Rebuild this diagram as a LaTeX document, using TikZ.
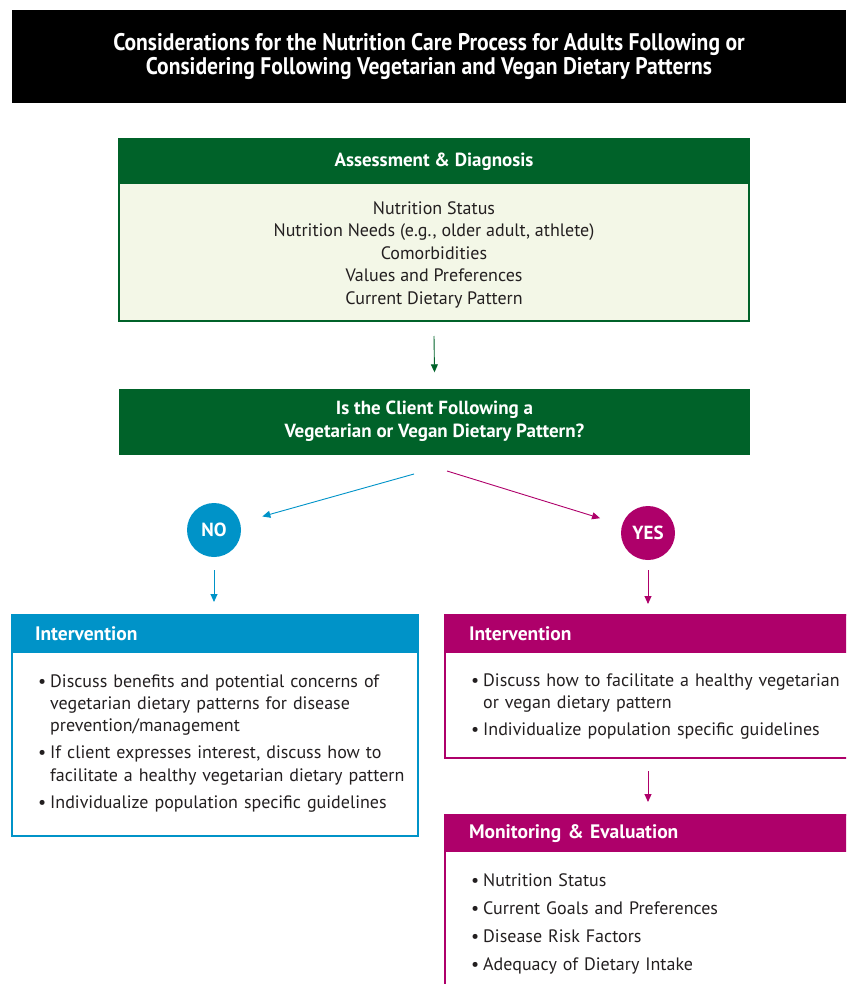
\documentclass[tikz,border=0pt]{standalone}
\usepackage{fontspec}
\setmainfont{PT Sans}
\newfontfamily\titlefont[FakeStretch=0.9]{PT Sans}
\usetikzlibrary{arrows.meta,positioning,calc}
\definecolor{dgreen}{HTML}{006229}
\definecolor{lgreen}{HTML}{F3F7E7}
\definecolor{nblue}{HTML}{0093C8}
\definecolor{ymag}{HTML}{AE006A}
\definecolor{txt}{HTML}{231F20}
\newcommand{\bitem}[1]{\par\hangindent=12pt\hangafter=1\noindent\makebox[12pt][l]{•}#1}
\newcommand{\bsep}{\par\vspace{5pt}}
\begin{document}
\begin{tikzpicture}[x=1pt,y=-1pt,
  titlebox/.style={fill=black, minimum width=834pt, minimum height=93pt, inner sep=0pt, text=white,
    font=\titlefont\bfseries\fontsize{24}{24.5}\selectfont, align=center},
  greenhdr/.style={fill=dgreen, text=white, inner sep=0pt, font=\bfseries\fontsize{19}{23}\selectfont, align=center},
  hdrbox/.style={text=white, inner ysep=0pt, anchor=north, align=left, font=\bfseries\fontsize{19.5}{22}\selectfont},
  outerbox/.style={line width=2pt, inner sep=0pt},
  listtext/.style={anchor=north west, inner sep=0pt, text width=390pt, align=left, text=txt,
    font=\fontsize{18}{22.3}\selectfont},
  circ/.style={circle, minimum size=54pt, inner sep=0pt, text=white, font=\bfseries\fontsize{19}{20}\selectfont},
  garrow/.style={draw=dgreen, line width=0.9pt, -{Triangle[length=8pt,width=7pt]}},
  barrow/.style={draw=nblue, line width=0.9pt, -{Triangle[length=8pt,width=7pt]}},
  marrow/.style={draw=ymag, line width=0.9pt, -{Triangle[length=8pt,width=7pt]}}
]
\useasboundingbox (0,0) rectangle (846,984);
\clip (0,0) rectangle (846,984);

% title
\node[titlebox] (title) at (429,56.5) {Considerations for the Nutrition Care Process for Adults Following or\\Considering Following Vegetarian and Vegan Dietary Patterns};

% assessment
\node[outerbox, draw=dgreen, fill=lgreen, minimum width=630pt, minimum height=182pt] (abox) at (434,230) {};
\node[greenhdr, minimum width=630pt, minimum height=46pt, anchor=north, text depth=2pt] (ah) at (abox.north) {Assessment \& Diagnosis};
\node[align=center, text=txt, font=\fontsize{18}{22.5}\selectfont] (at) at (434,254.5) {Nutrition Status\\Nutrition Needs (e.g., older adult, athlete)\\Comorbidities\\Values and Preferences\\Current Dietary Pattern};

% question
\node[greenhdr, minimum width=631pt, minimum height=66pt] (q) at (434.5,421.5) {Is the Client Following a\\Vegetarian or Vegan Dietary Pattern?};
\draw[garrow] ([yshift=-14pt]abox.south) -- ([yshift=16pt]q.north);

% circles
\node[circ, fill=nblue] (no) at (214,530) {NO};
\node[circ, fill=ymag] (yes) at (648,533) {YES};
\coordinate (bs) at (414,474);
\coordinate (ms) at (447,471);
\draw[barrow, shorten >=23pt] (bs) -- (no);
\draw[marrow, shorten >=23pt] (ms) -- (yes);

% left box
\node[outerbox, draw=nblue, minimum width=406pt, minimum height=221pt] (lbox) at (215,725.5) {};
\node[hdrbox, fill=nblue, text width=360pt, inner xsep=23pt, minimum height=39pt] (lh) at (lbox.north) {Intervention};
\node[listtext] (lt) at (38,664.5) {\bitem{Discuss benefits and potential concerns of\newline vegetarian dietary patterns for disease\newline prevention/management}\bsep
\bitem{If client expresses interest, discuss how to\newline facilitate a healthy vegetarian dietary pattern}\bsep
\bitem{Individualize population specific guidelines}};
\coordinate (na) at (no.south |- lbox.north);
\draw[barrow] ([yshift=-13pt]no.south) -- ([yshift=12pt]na);

% right intervention
\node[outerbox, draw=ymag, minimum width=420pt, minimum height=143pt] (rbox) at (655,686.5) {};
\node[hdrbox, fill=ymag, text width=372pt, inner xsep=24pt, minimum height=39pt] (rh) at (rbox.north) {Intervention};
\node[listtext] (rt) at (471,663.5) {\bitem{Discuss how to facilitate a healthy vegetarian\newline or vegan dietary pattern}\bsep
\bitem{Individualize population specific guidelines}};
\coordinate (ya) at (yes.south |- rbox.north);
\draw[marrow] ([yshift=-10pt]yes.south) -- ([yshift=10pt]ya);

% monitoring
\node[outerbox, draw=ymag, minimum width=420pt, minimum height=185pt] (mbox) at (655,907.5) {};
\node[hdrbox, fill=ymag, text width=372pt, inner xsep=24pt, minimum height=38pt] (mh) at (mbox.north) {Monitoring \& Evaluation};
\node[listtext] (mt) at (471,864) {\bitem{Nutrition Status}\par\vspace{5.7pt}
\bitem{Current Goals and Preferences}\par\vspace{5.7pt}
\bitem{Disease Risk Factors}\par\vspace{5.7pt}
\bitem{Adequacy of Dietary Intake}};
\coordinate (yb) at (yes |- rbox.south);
\coordinate (yc) at (yes |- mbox.north);
\draw[marrow] ([yshift=-12pt]yb) -- ([yshift=12pt]yc);
\end{tikzpicture}
\end{document}
